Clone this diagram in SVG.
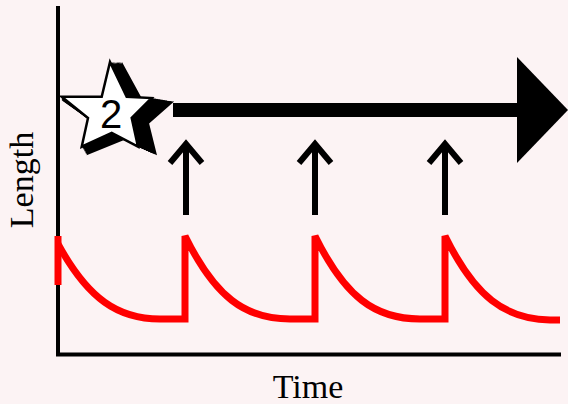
<svg xmlns="http://www.w3.org/2000/svg" xmlns:xlink="http://www.w3.org/1999/xlink" width="568" height="404" viewBox="0 0 568 404">
<style>
.axis{stroke:#000;stroke-width:4;fill:none}
.sig{stroke:#ff0000;stroke-width:7;fill:none;stroke-linejoin:miter;stroke-miterlimit:3}
.up{stroke:#000;stroke-width:6;fill:none;stroke-linejoin:miter}
.lbl{font-family:"Liberation Serif",serif;font-size:34px;fill:#000}
.num{font-family:"Liberation Sans",Arial,sans-serif;font-size:40px;fill:#000}
.ext{fill:#000}
</style>
<defs>
<polygon id="starShape" points="110,62 126.7,96.7 151.7,98 131.7,118 138,146.7 111.7,133 81.7,146.7 88,118 61.7,96.7 101.7,96.7"/>
</defs>
<rect width="568" height="404" fill="#fcf3f4"/>
<g id="axes">
<line class="axis" x1="58" y1="6" x2="58" y2="356"/>
<line class="axis" x1="56" y1="354.5" x2="561" y2="354.5"/>
</g>
<g id="signal">
<line class="sig" x1="58" y1="236" x2="58" y2="285" stroke-linecap="butt"/>
<path class="sig" d="M58,244 C88,299 118,319 160,319 L185,319 L185,236 C215,297 245,319 290,319 L315,319 L315,236 C345,297 375,319 420,319 L445,319 L445,236 C475,297 505,319 550,320 L560,320"/>
</g>
<g id="connectors">
<path class="up" d="M186,215 V144 M170,163 L186,144 L202,163"/>
<path class="up" d="M315,215 V144 M299,163 L315,144 L331,163"/>
<path class="up" d="M445,215 V144 M429,163 L445,144 L461,163"/>
</g>
<g id="bigArrow">
<rect x="173" y="103" width="347" height="14" fill="#000"/>
<polygon points="517,57 568,110 517,163" fill="#000"/>
</g>
<g id="star">
<use xlink:href="#starShape" class="ext" transform="matrix(1.025,0,0,1.01,-1.55,-0.62)"/>
<use xlink:href="#starShape" class="ext" transform="matrix(1.05,0,0,1.02,-3.1,-1.24)"/>
<use xlink:href="#starShape" class="ext" transform="matrix(1.075,0,0,1.03,-4.65,-1.86)"/>
<use xlink:href="#starShape" class="ext" transform="matrix(1.10,0,0,1.04,-6.2,-2.48)"/>
<use xlink:href="#starShape" class="ext" transform="matrix(1.125,0,0,1.05,-7.75,-3.1)"/>
<use xlink:href="#starShape" class="ext" transform="matrix(1.15,0,0,1.06,-9.3,-3.72)"/>
<use xlink:href="#starShape" class="ext" transform="matrix(1.175,0,0,1.07,-10.85,-4.34)"/>
<use xlink:href="#starShape" class="ext" transform="matrix(1.20,0,0,1.08,-12.4,-4.96)"/>
<use xlink:href="#starShape" class="ext" transform="matrix(1.225,0,0,1.09,-13.95,-5.58)"/>
<use xlink:href="#starShape" class="ext" transform="matrix(1.25,0,0,1.10,-15.5,-6.2)"/>
<use xlink:href="#starShape" fill="#fff" stroke="#000" stroke-width="2.5" stroke-linejoin="miter"/>
<text class="num" x="111" y="128" text-anchor="middle">2</text>
</g>
<g id="labels">
<text class="lbl" x="308" y="398" text-anchor="middle">Time</text>
<text class="lbl" transform="translate(33,180) rotate(-90)" text-anchor="middle">Length</text>
</g>
</svg>
